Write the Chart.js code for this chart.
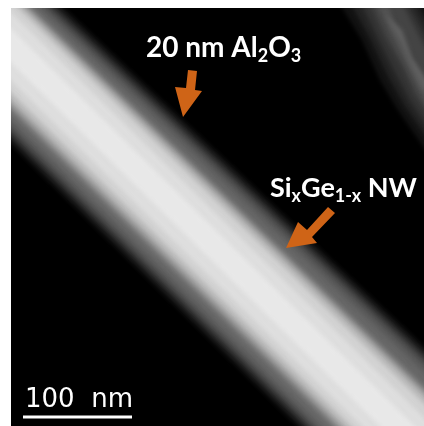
<!DOCTYPE html>
<html>
<head>
<meta charset="utf-8">
<style>
  html, body { margin: 0; background: #fff; }
  #wrap { position: absolute; left: 11px; top: 8px; width: 413px; height: 418px; background: #000; }
</style>
<script src="https://cdn.jsdelivr.net/npm/chart.js@4/dist/chart.umd.min.js"></script>
</head>
<body>
<div id="wrap"><canvas id="tem" width="413" height="418"></canvas></div>
<script>
// nanowire bands, outermost to innermost: y of each edge a bit past the left and right border
const wireEdgeX = [-19, 454, 454, -19]
const wireGrey = [8, 25, 48, 72, 90, 102, 112, 148, 185, 210, 222, 232]
const upperLeft = [-72, -68, -63, -58, -53, -48, -43, -39, -34, -28, -17, -1]
const upperRight = [373, 377, 382, 387, 393, 401, 413, 418, 424, 433, 447, 465]
const lowerLeft = [117, 113, 108, 103, 97, 91, 85, 79, 72, 63, 51, 33]
const lowerRight = [582, 578, 573, 568, 563, 557, 548, 542, 535, 527, 517, 499]

// second wire in the top right corner, outermost to innermost
const sideGrey = [18, 36, 52, 68, 82, 96]
const sideX = [
  [325, 362, 380, 398, 450, 450, 416],
  [338, 370, 388, 405, 450, 450, 404],
  [350, 378, 395, 410, 450, 450, 396],
  [360, 385, 402, 414, 450, 450, 390],
  [366, 392, 405, 416, 440, 440, 400, 380],
  [385, 400, 412, 424, 430, 412, 402],
]
const sideY = [
  [-20, 40, 80, 110, 185, 40, -20],
  [-20, 38, 76, 106, 170, 65, -20],
  [-20, 38, 72, 100, 160, 80, -20],
  [-20, 36, 66, 92, 150, 95, -20],
  [-20, 36, 62, 84, 130, 110, 40, -20],
  [14, 42, 68, 92, 84, 58, 30],
]

const arrowAX = [188, 197, 195, 202, 183, 175, 186]
const arrowAY = [70, 71, 90, 91, 117, 87, 88]
const arrowBX = [328, 335, 312, 317, 286, 298, 307]
const arrowBY = [207, 213, 237, 243, 248, 222, 230]

const scaleBarX = [23, 132]
const scaleBarY = [417, 417]

const toPoints = (xs, ys) => xs.map((x, i) => ({x, y: ys[i]}))
const grey = v => `rgb(${v},${v},${v})`

function shape(points, color) {
  return {
    data: points,
    showLine: true,
    fill: 'shape',
    backgroundColor: color,
    borderWidth: 0,
    pointRadius: 0,
  }
}

const datasets = []
// chart.js paints the first dataset last, so top layers go first
datasets.push({
  data: toPoints(scaleBarX, scaleBarY),
  showLine: true,
  borderColor: '#fff',
  borderWidth: 3,
  pointRadius: 0,
})
datasets.push(shape(toPoints(arrowAX, arrowAY), '#cf6417'))
datasets.push(shape(toPoints(arrowBX, arrowBY), '#cf6417'))
const SHARP_LAYERS = datasets.length
for (let i = wireGrey.length - 1; i >= 0; i--) {
  datasets.push(
    shape(
      toPoints(wireEdgeX, [upperLeft[i], upperRight[i], lowerRight[i], lowerLeft[i]]),
      grey(wireGrey[i])
    )
  )
}
for (let i = sideGrey.length - 1; i >= 0; i--) {
  datasets.push(shape(toPoints(sideX[i], sideY[i]), grey(sideGrey[i])))
}

// the micrograph is soft, the steps between bands should not show
const softness = {
  id: 'softness',
  beforeDatasetsDraw(chart) {
    chart.ctx.filter = 'blur(2px)'
  },
  afterDatasetDraw(chart, args) {
    if (args.index === SHARP_LAYERS) chart.ctx.filter = 'blur(0.5px)'
  },
  afterDatasetsDraw(chart) {
    chart.ctx.filter = 'none'
  },
}

const labels = {
  id: 'labels',
  afterDraw(chart) {
    const {ctx, scales} = chart
    const run = (x, y, parts, weight, family) => {
      let px = scales.x.getPixelForValue(x)
      const py = scales.y.getPixelForValue(y)
      parts.forEach(([text, size, drop]) => {
        ctx.font = `${weight} ${size}px "${family}"`
        ctx.fillText(text, px, py + drop)
        px += ctx.measureText(text).width
      })
    }
    ctx.save()
    ctx.filter = 'blur(0.4px)'
    ctx.fillStyle = '#fff'
    ctx.textBaseline = 'alphabetic'
    run(146, 57, [['20 nm Al', 28, 0], ['2', 18, 5], ['O', 28, 0], ['3', 18, 5]], 'bold', 'Lato')
    run(270, 197, [['Si', 27, 0], ['x', 18, 5], ['Ge', 27, 0], ['1-x', 18, 5], [' NW', 27, 0]], 'bold', 'Lato')
    run(25, 407, [['100  nm', 26, 0]], 'normal', 'DejaVu Sans')
    ctx.restore()
  },
}

new Chart(document.getElementById('tem'), {
  type: 'scatter',
  data: {datasets},
  plugins: [softness, labels],
  options: {
    responsive: false,
    animation: false,
    events: [],
    layout: {padding: 0},
    plugins: {legend: false, tooltip: false, title: false},
    scales: {
      x: {type: 'linear', min: 11, max: 424, display: false},
      y: {type: 'linear', min: 8, max: 426, reverse: true, display: false},
    },
  },
})
</script>
</body>
</html>
